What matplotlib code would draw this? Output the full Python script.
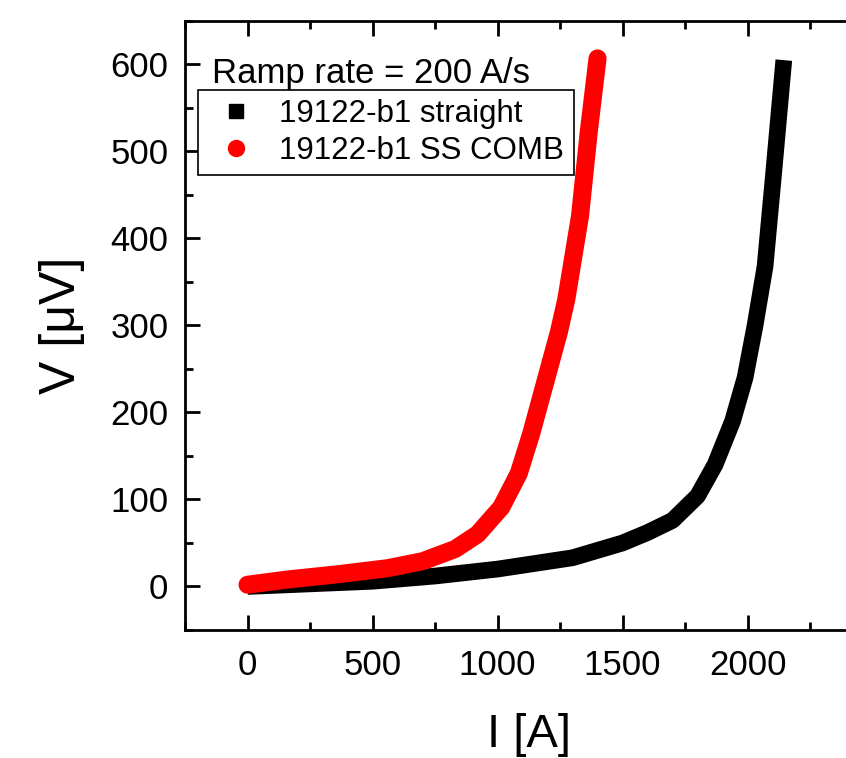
import matplotlib
matplotlib.use("Agg")
import matplotlib.pyplot as plt
from matplotlib.lines import Line2D
from matplotlib.ticker import MultipleLocator

plt.rcParams["font.family"] = ["Liberation Sans", "DejaVu Sans"]

# values (I in A, V in uV)
straight_I = [0, 250, 500, 750, 1000, 1300, 1500, 1600, 1700, 1800, 1870, 1940, 1990, 2030, 2070, 2105, 2145]
straight_V = [0, 3, 6, 12, 20, 33, 50, 62, 76, 104, 140, 190, 240, 300, 368, 477, 605]
comb_I = [0, 160, 360, 560, 700, 830, 920, 1015, 1085, 1135, 1190, 1245, 1275, 1330, 1365, 1400]
comb_V = [2, 8, 14, 21, 29, 43, 60, 91, 130, 176, 234, 292, 330, 426, 523, 607]
labels = ["19122-b1 straight", "19122-b1 SS COMB"]
xticks = [0, 500, 1000, 1500, 2000]

fig = plt.figure(figsize=(8.46, 7.58), dpi=100)
ax = fig.add_axes([0.2187, 0.1689, 0.8127, 0.8034])

ax.plot(straight_I, straight_V, color="black", lw=12, solid_capstyle="butt", solid_joinstyle="round")
ax.plot(comb_I, comb_V, color="red", lw=13, solid_capstyle="round", solid_joinstyle="round")

ax.set_xlim(-250, 2500)
ax.set_ylim(-50, 650)
ax.set_xticks(xticks)
ax.xaxis.set_minor_locator(MultipleLocator(250))
ax.yaxis.set_major_locator(MultipleLocator(100))
ax.yaxis.set_minor_locator(MultipleLocator(50))
ax.tick_params(which="both", direction="in", top=True, right=True, width=2, labelsize=25)
ax.tick_params(which="major", length=11)
ax.tick_params(which="minor", length=6)
ax.tick_params(axis="x", pad=14)
ax.tick_params(axis="y", pad=12)
for s in ax.spines.values():
    s.set_linewidth(2)

ax.set_xlabel("I [A]", fontsize=34, labelpad=22)
ax.set_ylabel("V [μV]", fontsize=36, labelpad=18)

ax.text(0.039, 0.898, "Ramp rate = 200 A/s", transform=ax.transAxes, fontsize=25, va="baseline")
handles = [Line2D([], [], color="black", marker="s", ls="none", markersize=9.5),
           Line2D([], [], color="red", marker="o", ls="none", markersize=11.5)]
leg = ax.legend(handles, labels, loc="upper left", bbox_to_anchor=(0.0189, 0.8867), fontsize=22.5,
                frameon=True, fancybox=False, edgecolor="black", framealpha=1,
                handletextpad=0.5, borderpad=0.3, labelspacing=0.2, handlelength=1.8,
                borderaxespad=0)
leg.get_frame().set_linewidth(1.2)

fig.savefig("out.png", dpi=100)
